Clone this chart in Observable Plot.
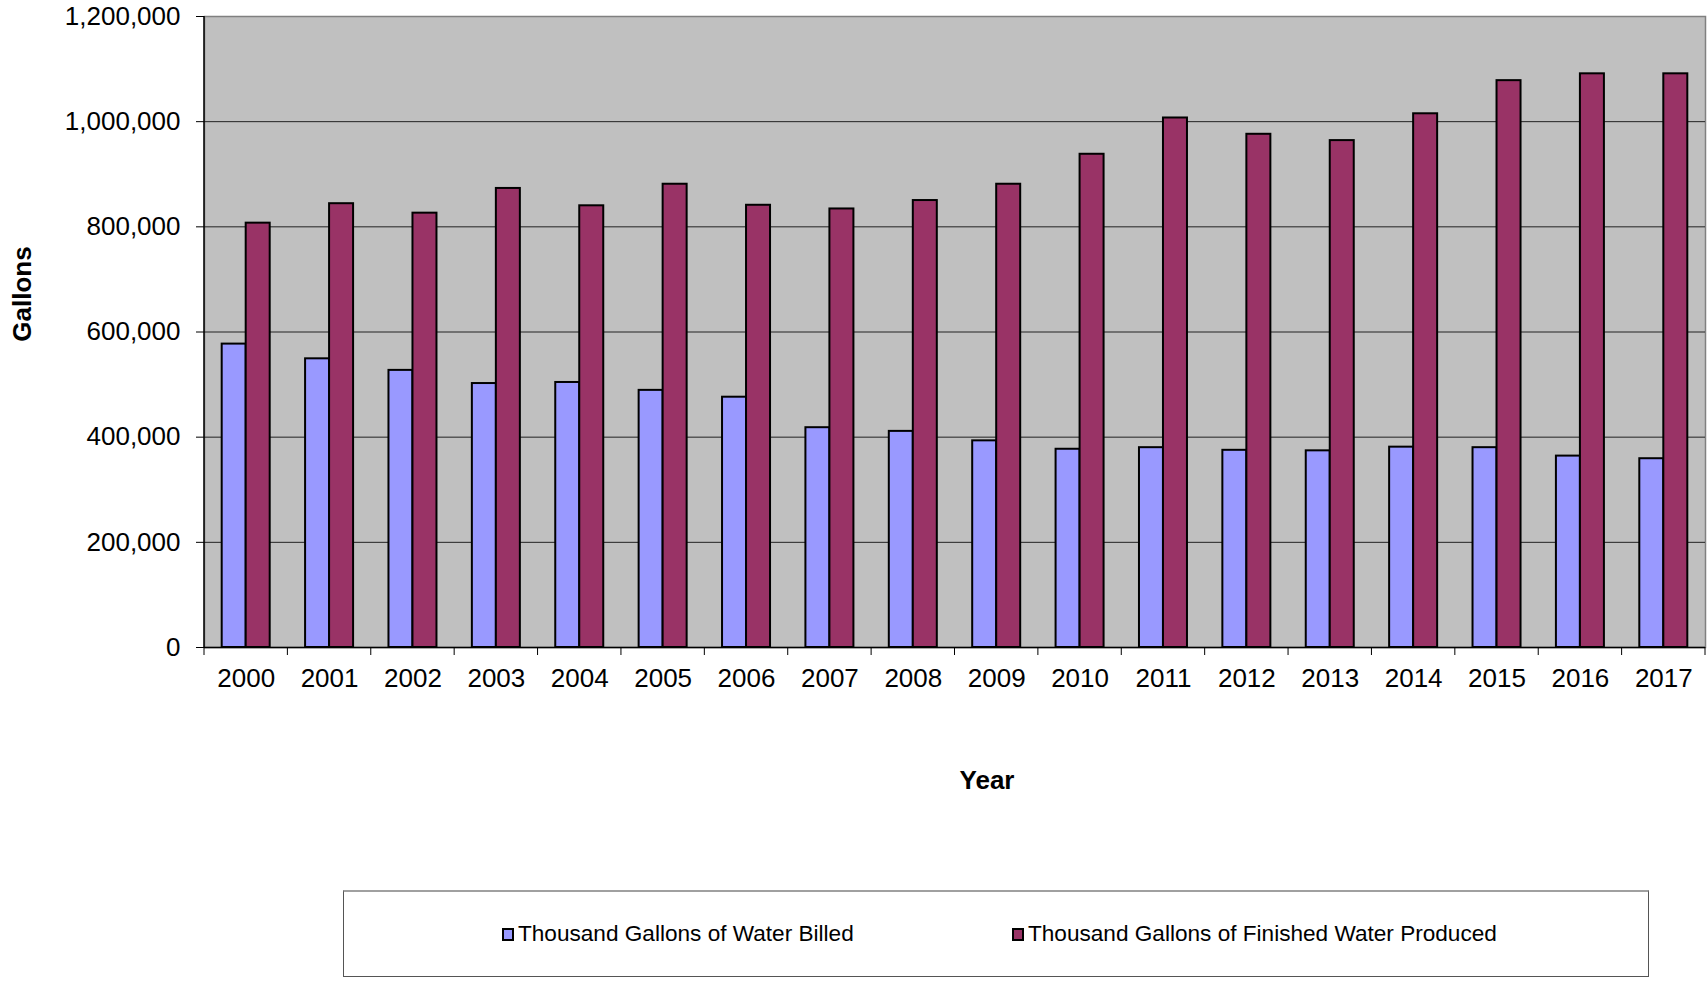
<!DOCTYPE html>
<html>
<head>
<meta charset="utf-8">
<script src="https://cdn.jsdelivr.net/npm/d3@7"></script>
<script src="https://cdn.jsdelivr.net/npm/@observablehq/plot@0.6"></script>
<style>
  html, body { margin: 0; padding: 0; background: #fff; }
  body { width: 1707px; height: 981px; position: relative; overflow: hidden; font-family: "Liberation Sans", Arial, sans-serif; }
  #chart { position: absolute; left: 0; top: 0; }
  .title { position: absolute; font-weight: bold; font-size: 26px; color: #000; white-space: nowrap; }
  #legend { position: absolute; left: 343px; top: 890px; width: 1306px; height: 87px; border: 1px solid #555; border-top: 2px solid #a0a0a0; box-sizing: border-box; }
  .item { position: absolute; top: 0; height: 100%; display: flex; align-items: center; font-size: 22.6px; color: #000; white-space: nowrap; }
  .sw { width: 8px; height: 9px; border: 2px solid #000; margin-right: 4px; }
</style>
</head>
<body>
<div id="chart"></div>
<div class="title" style="left:987px; top:780px; transform:translate(-50%,-50%);">Year</div>
<div class="title" style="left:22px; top:294px; transform:translate(-50%,-50%) rotate(-90deg);">Gallons</div>
<div id="legend"></div>
<script>
const years = ["2000","2001","2002","2003","2004","2005","2006","2007","2008","2009","2010","2011","2012","2013","2014","2015","2016","2017"];
const billed = [577000, 549000, 527000, 502000, 504000, 489000, 476000, 418000, 411000, 393000, 377000, 380000, 375000, 374000, 381000, 380000, 364000, 359000];
const produced = [807000, 844000, 826000, 873000, 840000, 881000, 841000, 834000, 850000, 881000, 938000, 1007000, 976000, 964000, 1015000, 1078000, 1091000, 1091000];
const seriesNames = ["Thousand Gallons of Water Billed", "Thousand Gallons of Finished Water Produced"];
const seriesColors = ["#9999ff", "#993366"];
const yTicks = [0, 200000, 400000, 600000, 800000, 1000000, 1200000];

const W = 1707, H = 820;
const mL = 204, mR = 2, mT = 16, mB = 173;
const bw = (W - mL - mR) / years.length;
const barW = 24;

const rows = years.map((y, i) => ({year: y, billed: billed[i], produced: produced[i]}));

const boundaryTicks = (index, scales, values, dims) => {
  const g = d3.create("svg:g");
  const x = scales.x;
  const y0 = dims.height - dims.marginBottom;
  const xs = years.map(y => x(y));
  xs.push(xs[xs.length - 1] + bw);
  for (const xv of xs) {
    g.append("line").attr("x1", xv).attr("x2", xv).attr("y1", y0).attr("y2", y0 + 8)
      .attr("stroke", "#000").attr("stroke-width", 1);
  }
  g.append("line").attr("x1", dims.marginLeft).attr("x2", dims.marginLeft)
    .attr("y1", dims.marginTop).attr("y2", y0).attr("stroke", "#000").attr("stroke-width", 1.5);
  return g.node();
};

const chart = Plot.plot({
  width: W, height: H,
  marginLeft: mL, marginRight: mR, marginTop: mT, marginBottom: mB,
  style: {fontFamily: "Liberation Sans, Arial, sans-serif", fontSize: "26px", color: "#000", background: "#fff"},
  x: {domain: years, padding: 0, round: false, label: null},
  y: {domain: [0, 1200000], label: null},
  marks: [
    Plot.frame({fill: "#c0c0c0", stroke: "#808080", strokeWidth: 1.5}),
    Plot.gridY(yTicks.slice(1, -1), {stroke: "#222", strokeOpacity: 1, strokeWidth: 1}),
    Plot.barY(rows, {x: "year", y: "billed", fill: seriesColors[0], stroke: "#000", strokeWidth: 2,
      insetLeft: bw / 2 - barW, insetRight: bw / 2}),
    Plot.barY(rows, {x: "year", y: "produced", fill: seriesColors[1], stroke: "#000", strokeWidth: 2,
      insetLeft: bw / 2, insetRight: bw / 2 - barW}),
    Plot.ruleY([0], {stroke: "#000", strokeWidth: 1.5}),
    Plot.axisY({ticks: yTicks, tickSize: 8, tickPadding: 16, tickFormat: d3.format(","), label: null}),
    Plot.axisX({tickSize: 0, tickPadding: 21, label: null}),
    boundaryTicks
  ]
});
document.getElementById("chart").appendChild(chart);

const legend = document.getElementById("legend");
const legendX = [158, 668];
seriesNames.forEach((name, i) => {
  const item = document.createElement("div");
  item.className = "item";
  item.style.left = legendX[i] + "px";
  const sw = document.createElement("div");
  sw.className = "sw";
  sw.style.background = seriesColors[i];
  const t = document.createElement("span");
  t.textContent = name;
  item.appendChild(sw);
  item.appendChild(t);
  legend.appendChild(item);
});
</script>
</body>
</html>
